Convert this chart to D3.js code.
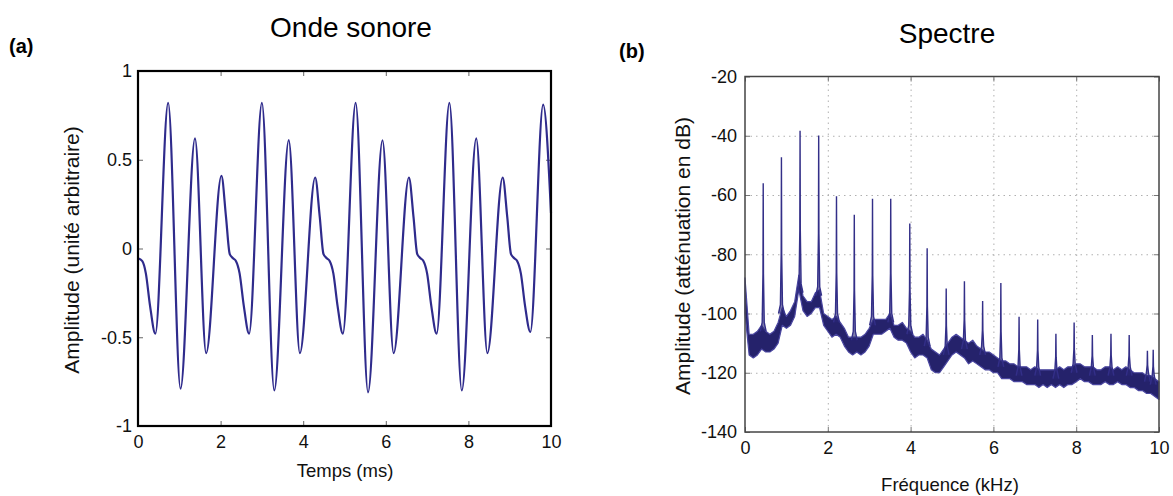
<!DOCTYPE html>
<html><head><meta charset="utf-8">
<script src="https://cdn.jsdelivr.net/npm/d3@7"></script>
<style>
html,body{margin:0;padding:0;background:#fff;}
svg{display:block;font-family:"Liberation Sans",Arial,sans-serif;}
</style></head>
<body>
<svg id="c" width="1173" height="496"></svg>
<script>
// ---------- Data: (a) sound wave ----------
const waveT = [0.00,0.10,0.19,0.29,0.42,0.73,1.03,1.38,1.65,2.02,2.13,2.22,2.30,2.37,2.46,2.56,2.69,3.00,3.30,3.65,3.92,4.29,4.40,4.49,4.57,4.64,4.73,4.83,4.96,5.27,5.57,5.92,6.19,6.56,6.67,6.76,6.84,6.91,7.00,7.10,7.23,7.54,7.84,8.19,8.46,8.83,8.94,9.03,9.11,9.18,9.27,9.37,9.50,9.81,10.00];
const waveV = [-0.055,-0.07,-0.14,-0.32,-0.48,0.82,-0.79,0.62,-0.59,0.41,0.18,-0.03,-0.055,-0.07,-0.14,-0.32,-0.48,0.82,-0.80,0.61,-0.59,0.40,0.18,-0.03,-0.055,-0.07,-0.14,-0.32,-0.48,0.82,-0.81,0.61,-0.59,0.40,0.18,-0.03,-0.055,-0.07,-0.14,-0.32,-0.48,0.82,-0.80,0.62,-0.59,0.40,0.18,-0.03,-0.055,-0.07,-0.14,-0.32,-0.47,0.81,0.20];
const waveXTicks = [0,2,4,6,8,10];
const waveYTicks = [-1,-0.5,0,0.5,1];

// ---------- Data: (b) spectrum ----------
const noiseF = d3.range(0, 101).map(i => i / 10); // 0 .. 10 kHz, step 0.1
const noiseHi = [-88,-107,-107,-106,-104,-106,-107,-106,-103,-98,-101,-99,-96,-87,-94,-96,-96,-93,-92,-100,-101,-102,-101,-103,-105,-108,-108,-108,-108,-107,-105,-102,-102,-102,-102,-100,-104,-104,-103,-105,-106,-108,-108,-107,-109,-112,-113,-114,-112,-110,-108,-107,-108,-109,-110,-109,-111,-112,-113,-113,-114,-115,-116,-116,-117,-117,-118,-118,-118,-119,-118,-119,-119,-119,-119,-119,-118,-119,-118,-118,-117,-117,-118,-118,-118,-119,-119,-118,-118,-119,-118,-119,-118,-119,-120,-120,-120,-121,-121,-122,-123];
const noiseLo = [-100,-114,-115,-114,-112,-113,-113,-112,-110,-104,-105,-104,-101,-92,-99,-101,-100,-98,-98,-104,-106,-108,-107,-108,-111,-113,-114,-113,-114,-113,-111,-107,-107,-107,-106,-105,-108,-109,-109,-110,-113,-115,-114,-114,-115,-119,-120,-120,-118,-116,-114,-113,-114,-115,-117,-116,-117,-118,-119,-119,-120,-120,-122,-122,-122,-123,-123,-123,-124,-124,-124,-125,-124,-125,-124,-125,-124,-125,-124,-124,-123,-122,-123,-123,-124,-124,-124,-123,-124,-124,-123,-124,-124,-125,-125,-126,-126,-127,-127,-128,-129];
const peakF  = [0.44,0.88,1.33,1.78,2.21,2.64,3.08,3.52,3.98,4.40,4.86,5.30,5.74,6.18,6.62,7.07,7.51,7.95,8.39,8.84,9.28,9.72,9.86];
const peakDb = [-56,-47.3,-38.3,-39.9,-60.4,-66.7,-61.3,-61.3,-69.6,-78,-91.6,-89.1,-95.8,-89.7,-101.1,-102,-106.8,-103,-107.3,-106.8,-107.3,-112.6,-112.2];
const skirtDb = [-103,-97,-90,-91,-100,-106,-101,-100,-104,-108,-111,-109,-111,-115,-118,-118,-119,-117,-118,-118,-118,-120,-121];
const specXTicks = [0,2,4,6,8,10];
const specYTicks = [-140,-120,-100,-80,-60,-40,-20];

const svg = d3.select("#c");
const plain = d => String(d);   // hyphen-minus like the original

// ================= (a) =================
const xA = d3.scaleLinear().domain([0,10]).range([138,551]);
const yA = d3.scaleLinear().domain([-1,1]).range([426,71]);
const gA = svg.append("g");

gA.append("g").attr("transform","translate(0,426)")
  .call(d3.axisBottom(xA).tickValues(waveXTicks).tickSize(-5).tickSizeOuter(0).tickPadding(9).tickFormat(plain))
  .call(g=>{g.select(".domain").remove(); g.selectAll("line").attr("stroke","#666");
    g.selectAll("text").attr("font-size",18).attr("fill","#111").attr("font-family","Liberation Sans, Arial");});
gA.append("g").attr("transform","translate(0,71)")
  .call(d3.axisTop(xA).tickValues(waveXTicks).tickSize(-5).tickSizeOuter(0).tickFormat(""))
  .call(g=>{g.select(".domain").remove(); g.selectAll("line").attr("stroke","#666");});
gA.append("g").attr("transform","translate(138,0)")
  .call(d3.axisLeft(yA).tickValues(waveYTicks).tickSize(-5).tickSizeOuter(0).tickPadding(6).tickFormat(plain))
  .call(g=>{g.select(".domain").remove(); g.selectAll("line").attr("stroke","#666");
    g.selectAll("text").attr("font-size",18).attr("fill","#111").attr("font-family","Liberation Sans, Arial");});
gA.append("g").attr("transform","translate(551,0)")
  .call(d3.axisRight(yA).tickValues(waveYTicks).tickSize(-5).tickSizeOuter(0).tickFormat(""))
  .call(g=>{g.select(".domain").remove(); g.selectAll("line").attr("stroke","#666");});

const wave = waveT.map((t,i)=>[t,waveV[i]]);
gA.append("path").datum(wave)
  .attr("fill","none").attr("stroke","#2f2b8c").attr("stroke-width",2.2)
  .attr("d", d3.line().x(d=>xA(d[0])).y(d=>yA(d[1])).curve(d3.curveMonotoneX));

gA.append("rect").attr("x",138).attr("y",71).attr("width",551-138).attr("height",426-71)
  .attr("fill","none").attr("stroke","#000").attr("stroke-width",2.2);

gA.append("text").attr("x",351).attr("y",37).attr("text-anchor","middle")
  .attr("font-size",28).attr("fill","#000").text("Onde sonore");
gA.append("text").attr("x",9).attr("y",53).attr("font-size",20).attr("font-weight","bold")
  .attr("fill","#000").text("(a)");
gA.append("text").attr("x",345).attr("y",477).attr("text-anchor","middle")
  .attr("font-size",18.5).attr("fill","#111").text("Temps (ms)");
gA.append("text").attr("transform","translate(79,250) rotate(-90)").attr("text-anchor","middle")
  .attr("font-size",21).attr("fill","#111").text("Amplitude (unité arbitraire)");

// ================= (b) =================
const xB = d3.scaleLinear().domain([0,10]).range([745,1159]);
const yB = d3.scaleLinear().domain([-140,-20]).range([432,76.5]);
const gB = svg.append("g");

// dotted grid
gB.append("g").attr("transform","translate(0,432)")
  .call(d3.axisBottom(xB).tickValues(specXTicks.slice(1,-1)).tickSize(-(432-76.5)).tickFormat(""))
  .call(g=>{g.select(".domain").remove(); g.selectAll("line").attr("stroke","#b0b0b0").attr("stroke-dasharray","1.5,4");});
gB.append("g").attr("transform","translate(745,0)")
  .call(d3.axisLeft(yB).tickValues(specYTicks.slice(1,-1)).tickSize(-(1159-745)).tickFormat(""))
  .call(g=>{g.select(".domain").remove(); g.selectAll("line").attr("stroke","#b0b0b0").attr("stroke-dasharray","1.5,4");});

// labels + inner ticks
gB.append("g").attr("transform","translate(0,432)")
  .call(d3.axisBottom(xB).tickValues(specXTicks).tickSize(-5).tickSizeOuter(0).tickPadding(9).tickFormat(plain))
  .call(g=>{g.select(".domain").remove(); g.selectAll("line").attr("stroke","#777");
    g.selectAll("text").attr("font-size",18).attr("fill","#111").attr("font-family","Liberation Sans, Arial");});
gB.append("g").attr("transform","translate(0,76.5)")
  .call(d3.axisTop(xB).tickValues(specXTicks).tickSize(-5).tickSizeOuter(0).tickFormat(""))
  .call(g=>{g.select(".domain").remove(); g.selectAll("line").attr("stroke","#777");});
gB.append("g").attr("transform","translate(745,0)")
  .call(d3.axisLeft(yB).tickValues(specYTicks).tickSize(-5).tickSizeOuter(0).tickPadding(8).tickFormat(plain))
  .call(g=>{g.select(".domain").remove(); g.selectAll("line").attr("stroke","#777");
    g.selectAll("text").attr("font-size",18).attr("fill","#111").attr("font-family","Liberation Sans, Arial");});
gB.append("g").attr("transform","translate(1159,0)")
  .call(d3.axisRight(yB).tickValues(specYTicks).tickSize(-5).tickSizeOuter(0).tickFormat(""))
  .call(g=>{g.select(".domain").remove(); g.selectAll("line").attr("stroke","#777");});

// noise band
const band = noiseF.map((f,i)=>({f, hi:noiseHi[i], lo:noiseLo[i]}));
gB.append("path").datum(band)
  .attr("fill","#25226b").attr("stroke","#4a46a0").attr("stroke-width",1.2).attr("stroke-linejoin","round")
  .attr("d", d3.area().x(d=>xB(d.f)).y0(d=>yB(d.lo)).y1(d=>yB(d.hi)));

// harmonic peaks
const spikeLine = d3.line().x(d=>xB(d[0])).y(d=>yB(d[1]));
peakF.forEach((f,i)=>{
  const pts = [[f-0.07, skirtDb[i]-3],[f-0.025, skirtDb[i]],[f-0.006, skirtDb[i]+0.35*(peakDb[i]-skirtDb[i])],[f, peakDb[i]],
               [f+0.006, skirtDb[i]+0.35*(peakDb[i]-skirtDb[i])],[f+0.025, skirtDb[i]],[f+0.07, skirtDb[i]-3]];
  gB.append("path").datum(pts).attr("fill","#2a2775").attr("fill-opacity",0.6)
    .attr("stroke","#332f88").attr("stroke-width",1.4).attr("d", spikeLine);
});

gB.append("rect").attr("x",745).attr("y",76.5).attr("width",1159-745).attr("height",432-76.5)
  .attr("fill","none").attr("stroke","#444").attr("stroke-width",1.5);

gB.append("text").attr("x",947).attr("y",43).attr("text-anchor","middle")
  .attr("font-size",28).attr("fill","#000").text("Spectre");
gB.append("text").attr("x",619).attr("y",58).attr("font-size",20).attr("font-weight","bold")
  .attr("fill","#000").text("(b)");
gB.append("text").attr("x",950).attr("y",491).attr("text-anchor","middle")
  .attr("font-size",18.5).attr("fill","#111").text("Fréquence (kHz)");
gB.append("text").attr("transform","translate(690,256) rotate(-90)").attr("text-anchor","middle")
  .attr("font-size",21).attr("fill","#111").text("Amplitude (atténuation en dB)");
</script>
</body></html>
